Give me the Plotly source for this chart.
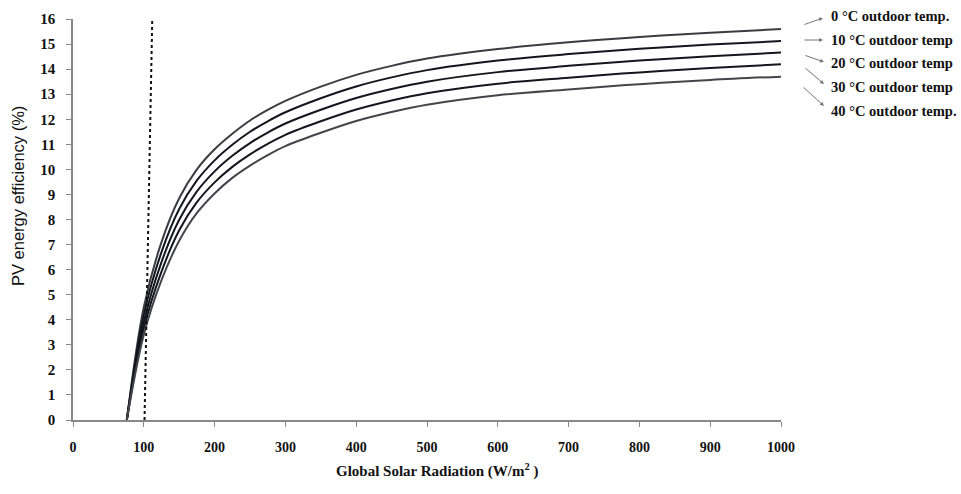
import plotly.graph_objects as go

# Global solar radiation (W/m2) sample points
radiation = [76, 100, 125, 150, 175, 200, 225, 250, 275, 300, 350, 400, 450, 500, 600, 700, 800, 900, 1000]

# PV energy efficiency (%) for each outdoor temperature
eff_0 = [0, 4.5, 7.1, 8.85, 10.0, 10.8, 11.42, 11.95, 12.37, 12.73, 13.3, 13.77, 14.13, 14.42, 14.8, 15.07, 15.28, 15.45, 15.6]
eff_10 = [0, 4.2, 6.7, 8.42, 9.56, 10.36, 10.98, 11.5, 11.92, 12.28, 12.84, 13.31, 13.67, 13.96, 14.34, 14.6, 14.81, 14.98, 15.12]
eff_20 = [0, 3.9, 6.3, 7.99, 9.12, 9.92, 10.54, 11.05, 11.47, 11.83, 12.38, 12.85, 13.21, 13.5, 13.88, 14.13, 14.34, 14.51, 14.66]
eff_30 = [0, 3.65, 5.92, 7.57, 8.69, 9.48, 10.1, 10.6, 11.02, 11.38, 11.92, 12.39, 12.75, 13.04, 13.42, 13.66, 13.87, 14.04, 14.19]
eff_40 = [0, 3.4, 5.58, 7.15, 8.26, 9.04, 9.66, 10.15, 10.57, 10.93, 11.46, 11.93, 12.29, 12.58, 12.96, 13.19, 13.4, 13.57, 13.7]

series_labels = ["0 °C outdoor temp.", "10 °C outdoor temp", "20 °C outdoor temp",
                 "30 °C outdoor temp", "40 °C outdoor temp."]

# Threshold marker (dotted line near 100 W/m2)
threshold_x = [101, 112]
threshold_y = [0, 16.1]

x_ticks = list(range(0, 1001, 100))
y_ticks = list(range(0, 17))

# Plot area geometry (pixels)
W, H = 961, 494
L, R, T, B = 73, 180, 19, 74
PW, PH = W - L - R, H - T - B


def px(x):
    return (x - L) / PW


def py(y):
    return (H - B - y) / PH


serif = "Liberation Serif"
line_colors = ["#3b3b44", "#15151f", "#15151f", "#15151f", "#44444c"]

fig = go.Figure()
for vals, name, col in zip([eff_0, eff_10, eff_20, eff_30, eff_40], series_labels, line_colors):
    fig.add_trace(go.Scatter(x=radiation, y=vals, mode="lines", name=name,
                             line=dict(color=col, width=2, shape="spline", smoothing=1.0)))

fig.add_trace(go.Scatter(x=threshold_x, y=threshold_y, mode="lines",
                         line=dict(color="#111111", width=2, dash="dot"), showlegend=False))

# Arrows leading from the curve ends to the temperature labels
label_y = [16, 40, 63, 87, 111]
arrow_tail = [(803, 25), (803, 40), (804, 55), (804, 67), (802, 86)]
arrow_head = [(823, 18), (823, 40), (824, 62), (824, 84), (824, 106)]
for text, ly, (tx, ty), (hx, hy) in zip(series_labels, label_y, arrow_tail, arrow_head):
    fig.add_annotation(x=px(hx), y=py(hy), xref="paper", yref="paper",
                       ax=tx - hx, ay=ty - hy, axref="pixel", ayref="pixel",
                       text="", showarrow=True, arrowhead=2, arrowsize=0.8,
                       arrowwidth=1, arrowcolor="#777777")
    fig.add_annotation(x=px(829), y=py(ly), xref="paper", yref="paper",
                       text=f"<b>{text}</b>", showarrow=False, xanchor="left", yanchor="middle",
                       font=dict(family=serif, size=14.5, color="#111111"))

# Axis titles
fig.add_annotation(x=px(437), y=py(470), xref="paper", yref="paper",
                   text="<b>Global Solar Radiation (W/m<sup>2</sup> )</b>", showarrow=False,
                   xanchor="center", yanchor="middle",
                   font=dict(family=serif, size=15, color="#111111"))
fig.add_annotation(x=px(18), y=py(196), xref="paper", yref="paper",
                   text="PV energy efficiency (%)", showarrow=False, textangle=-90,
                   xanchor="center", yanchor="middle",
                   font=dict(family="Liberation Sans", size=16.5, color="#111111"))

fig.update_layout(
    width=W, height=H,
    margin=dict(l=L, r=R, t=T, b=B),
    paper_bgcolor="white", plot_bgcolor="white",
    showlegend=False,
    xaxis=dict(range=[0, 1000], tickvals=x_ticks, ticks="outside", ticklen=5,
               tickcolor="#888888", showline=True, linecolor="#888888", linewidth=1.5,
               showgrid=False, zeroline=False, ticklabelstandoff=8, tickformat="d",
               tickfont=dict(family=serif, size=14, color="#111111", weight="bold")),
    yaxis=dict(range=[0, 16], tickvals=y_ticks, ticks="outside", ticklen=5,
               tickcolor="#888888", showline=True, linecolor="#888888", linewidth=1.5,
               showgrid=False, zeroline=False, ticklabelstandoff=8, tickformat="d",
               tickfont=dict(family=serif, size=15, color="#111111", weight="bold")),
)

fig.write_html("out.html")
